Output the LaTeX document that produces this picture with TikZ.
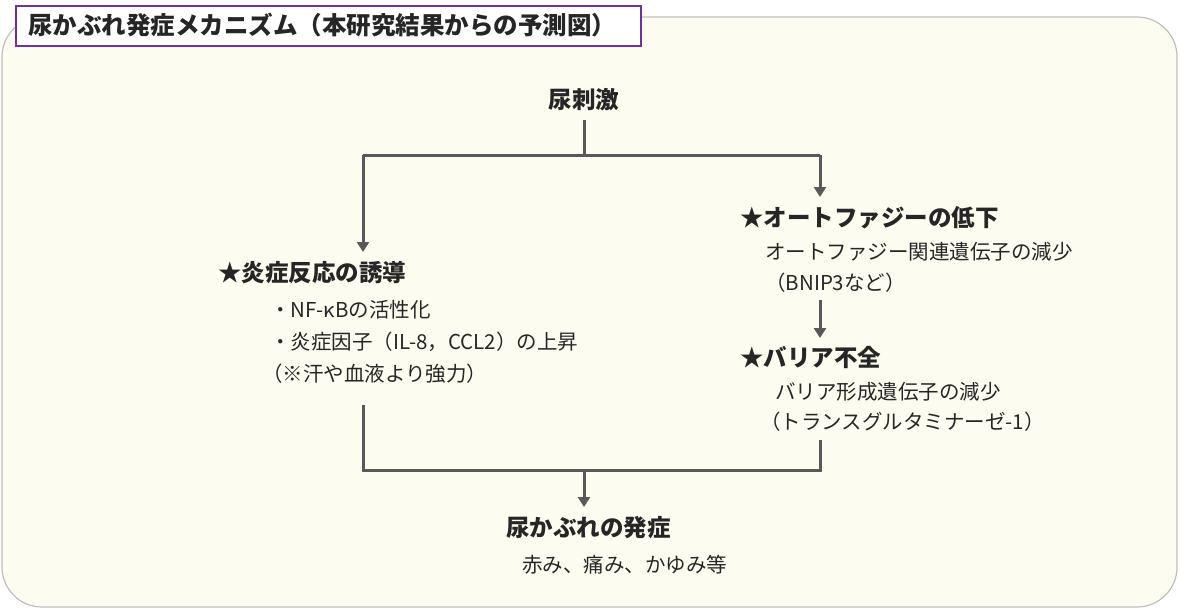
\documentclass[tikz,border=0pt]{standalone}
\usepackage{fontspec}
\setmainfont{Noto Sans CJK JP}
\usetikzlibrary{arrows.meta}
\definecolor{cream}{HTML}{FDFCF0}
\definecolor{edge}{HTML}{BFBFBF}
\definecolor{purp}{HTML}{7030A0}
\definecolor{ln}{HTML}{595959}
\begin{document}
\begin{tikzpicture}[x=1pt,y=-1pt,
  t/.style={anchor=west,inner sep=0pt,font=\fontsize{20.5}{24}\selectfont,text=black!85},
  h/.style={anchor=west,inner sep=0pt,font=\fontsize{23.5}{26}\selectfont\bfseries,text=black!85},
  con/.style={draw=ln,line width=3pt},
  arr/.style={con,-{Triangle[width=12pt,length=10pt]}}]
\useasboundingbox (0,0) rectangle (1180,610);
\draw[fill=cream,draw=edge,line width=1.2pt,rounded corners=40pt] (2,17) rectangle (1177,607);
\node[draw=purp,line width=2pt,fill=white,anchor=north west,minimum width=625pt,minimum height=40pt,inner sep=0pt] (tb) at (15,5) {};
\node[h,font=\fontsize{24.5}{26}\selectfont\bfseries] (title) at (28,25) {尿かぶれ発症メカニズム（本研究結果からの予測図）};
\node[h,anchor=center] (s) at (584,100) {尿刺激};
\coordinate (s1) at (584,120);
\coordinate (j) at (584,155);
\coordinate (jl) at (363,155);
\coordinate (jr) at (820,155);
\coordinate (al) at (363,252);
\coordinate (ar) at (820,197);
\draw[con] (s1) -- (j);
\draw[con] (jl) -- (jr);
\draw[arr] (jl) -- (al);
\draw[arr] (jr) -- (ar);
\node[h] (a1) at (740,218) {★オートファジーの低下};
\node[t] (a2) at (765,252) {オートファジー関連遺伝子の減少};
\node[t] (a3) at (765,283) {（BNIP3など）};
\coordinate (b0) at (820,300);
\coordinate (b1) at (820,338);
\draw[arr] (b0) -- (b1);
\node[h] (b2) at (740,357) {★バリア不全};
\node[t] (b3) at (775,392) {バリア形成遺伝子の減少};
\node[t] (b4) at (760,422) {（トランスグルタミナーゼ-1）};
\node[h] (c1) at (218,273) {★炎症反応の誘導};
\node[t] (c2) at (270,310) {・NF-κBの活性化};
\node[t] (c3) at (270,342) {・炎症因子（IL-8，CCL2）の上昇};
\node[t] (c4) at (262,374) {（※汗や血液より強力）};
\coordinate (l0) at (363,405);
\coordinate (l1) at (363,470);
\coordinate (r0) at (820,440);
\coordinate (r1) at (820,470);
\coordinate (m0) at (584,470);
\coordinate (m1) at (584,507);
\draw[con] (l0) -- (l1) -- (r1) -- (r0);
\draw[arr] (m0) -- (m1);
\node[h] (d1) at (506,528) {尿かぶれの発症};
\node[t] (d2) at (522,565) {赤み、痛み、かゆみ等};
\end{tikzpicture}
\end{document}
